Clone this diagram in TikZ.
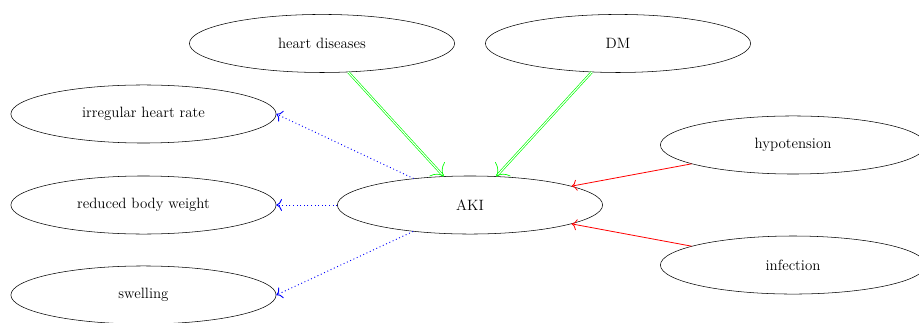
\documentclass[tikz,border=0pt]{standalone}
\usetikzlibrary{shapes.geometric,arrows.meta}

\begin{document}
\begin{tikzpicture}[
    factor/.style={shape=ellipse,draw,inner sep=0pt,minimum width=6.99cm,minimum height=1.53cm,font=\fontsize{11.2}{13}\selectfont},
    causeA/.style={-{To[scale=1.35]},draw=aki_green,line width=0.5pt,double,double distance=0.8pt},
    causeB/.style={-{To[scale=1.35]},draw=aki_red,line width=0.6pt},
    effect/.style={-{To[scale=1.35]},draw=aki_blue,line width=0.7pt,dash pattern=on 0.7pt off 2pt}]
    \definecolor{aki_green}{RGB}{0,255,0}
    \definecolor{aki_red}{RGB}{255,0,0}
    \definecolor{aki_blue}{RGB}{0,0,255}
    \useasboundingbox (0,0) rectangle (24.224,8.488);
    \node[factor] (heart) at (8.488,7.342) {heart diseases};
    \node[factor] (dm) at (16.290,7.342) {DM};
    \node[factor] (irregular) at (3.782,5.483) {irregular heart rate};
    \node[factor] (weight) at (3.782,3.084) {reduced body weight};
    \node[factor] (swelling) at (3.782,0.712) {swelling};
    \node[factor] (aki) at (12.389,3.084) {AKI};
    \node[factor] (hypo) at (20.903,4.666) {hypotension};
    \node[factor] (infection) at (20.903,1.502) {infection};
    \draw[causeA] (heart) to (aki);
    \draw[causeA] (dm) to (aki);
    \draw[causeB] (hypo) to (aki);
    \draw[causeB] (infection) to (aki);
    \draw[effect] (aki) to (irregular.east);
    \draw[effect] (aki) to (weight.east);
    \draw[effect] (aki) to (swelling.east);
    \end{tikzpicture}
\end{document}
